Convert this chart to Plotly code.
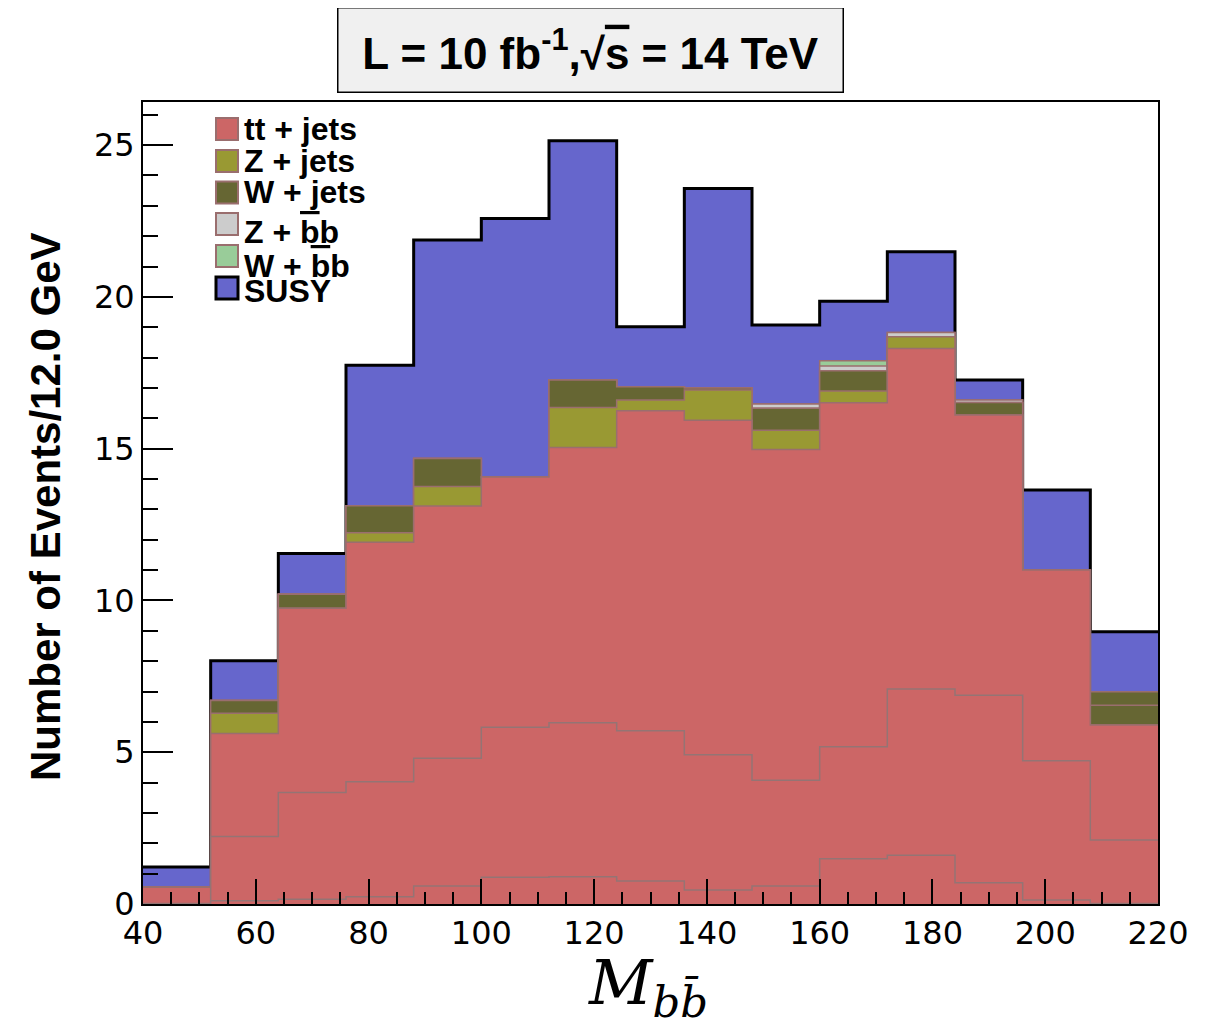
import numpy as np
import plotly.graph_objects as go

# ---- data ----
bin_edges = [40, 52, 64, 76, 88, 100, 112, 124, 136, 148, 160, 172, 184, 196, 208, 220]

tt_a = [0.00, 0.11, 0.16, 0.24, 0.59, 0.88, 0.90, 0.76, 0.46, 0.59, 1.49, 1.61, 0.70, 0.13, 0.02]
tt_b = [0.02, 2.11, 3.51, 3.79, 4.21, 4.94, 5.07, 4.95, 4.46, 3.49, 3.69, 5.47, 6.18, 4.59, 2.09]
tt_c = [0.53, 3.40, 6.07, 7.89, 8.31, 8.25, 9.07, 10.54, 11.02, 10.89, 11.33, 11.22, 9.23, 6.28, 3.79]
z_jets = [0.00, 0.66, 0.00, 0.31, 0.64, 0.00, 1.32, 0.35, 0.99, 0.64, 0.39, 0.39, 0.00, 0.00, 0.00]
w_jets_a = [0.00, 0.42, 0.46, 0.89, 0.93, 0.00, 0.90, 0.44, 0.07, 0.72, 0.67, 0.00, 0.41, 0.00, 0.65]
w_jets_b = [0.00, 0.00, 0.00, 0.00, 0.00, 0.00, 0.00, 0.00, 0.00, 0.00, 0.00, 0.00, 0.00, 0.00, 0.44]
z_bb = [0.00, 0.00, 0.00, 0.00, 0.00, 0.00, 0.00, 0.00, 0.00, 0.14, 0.15, 0.14, 0.08, 0.00, 0.00]
w_bb = [0.00, 0.00, 0.00, 0.00, 0.00, 0.00, 0.00, 0.00, 0.00, 0.00, 0.18, 0.00, 0.00, 0.00, 0.00]
susy = [0.67, 1.31, 1.35, 4.63, 7.19, 8.51, 7.88, 1.98, 6.57, 2.60, 1.96, 2.66, 0.66, 2.64, 1.98]

y_ticks = [0, 5, 10, 15, 20, 25]
x_ticks = [40, 60, 80, 100, 120, 140, 160, 180, 200, 220]

OVB = "<span style='text-decoration:overline'>b</span>"
legend_labels = ["tt + jets", "Z + jets", "W + jets", "Z + " + OVB + "b", "W + " + OVB + "b", "SUSY"]

# ---- stack (bottom -> top) ----
LC = "#9a6e6e"
components = [
    # legend label index, values, fill colour, line colour, line width
    (0, tt_a, "#cc6666", "#947474", 1.5),
    (0, tt_b, "#cc6666", "#947474", 1.5),
    (0, tt_c, "#cc6666", LC, 1.5),
    (1, z_jets, "#999933", LC, 1.5),
    (2, w_jets_a, "#666633", LC, 1.5),
    (2, w_jets_b, "#666633", LC, 1.5),
    (3, z_bb, "#cccccc", LC, 1.5),
    (4, w_bb, "#99cc99", LC, 1.5),
    (5, susy, "#6666cc", "#000000", 3.0),
]

cum = np.cumsum(np.array([c[1] for c in components], dtype=float), axis=0)

fig = go.Figure()
# ROOT THStack style: draw the highest cumulative first, lower ones painted over it
for i in reversed(range(len(components))):
    li, vals, fc, lc, lw = components[i]
    yv = list(cum[i]) + [cum[i][-1]]
    fig.add_trace(go.Scatter(
        x=bin_edges, y=yv, mode="lines", line_shape="hv",
        line=dict(color=lc, width=lw), fill="tozeroy", fillcolor=fc,
        name=legend_labels[li], showlegend=False, hoverinfo="skip",
    ))

tick_font = dict(family="DejaVu Sans", size=32, color="black")

# plot area in page pixels: x 143..1158, y 102..904 (page has an 8px body margin)
W, H = 1200, 1019
L, T = 135, 94
PW, PH = 1015, 802

fig.update_layout(
    width=W, height=H,
    margin=dict(l=L, r=W - L - PW, t=T, b=H - T - PH),
    paper_bgcolor="white", plot_bgcolor="white",
    showlegend=False,
    xaxis=dict(
        range=[40, 220], tickmode="array", tickvals=x_ticks,
        ticks="inside", ticklen=25, tickwidth=1.5, tickcolor="black",
        minor=dict(dtick=5, tick0=40, ticks="inside", ticklen=12, tickwidth=1.5, tickcolor="black"),
        showgrid=False, zeroline=False,
        showline=True, linecolor="black", linewidth=2, mirror=True,
        tickfont=tick_font,
    ),
    yaxis=dict(
        range=[0, 26.42], tickmode="array", tickvals=y_ticks,
        ticks="inside", ticklen=30, tickwidth=1.5, tickcolor="black",
        minor=dict(dtick=1, tick0=0, ticks="inside", ticklen=15, tickwidth=1.5, tickcolor="black"),
        showgrid=False, zeroline=False,
        showline=True, linecolor="black", linewidth=2, mirror=True,
        tickfont=tick_font,
    ),
)


def px_x(p):
    return (p - 143) / PW


def px_y(p):
    return (904 - p) / PH


# ---- legend (ROOT TLegend look: square swatches, tight rows) ----
legend_fill = ["#cc6666", "#999933", "#666633", "#cccccc", "#99cc99", "#6666cc"]
legend_line = [LC, LC, LC, LC, LC, "#000000"]
legend_lw = [2, 2, 2, 2, 2, 3]
swatch_centers = [129, 161, 192.5, 224, 256, 288]
text_centers = [129.5, 161, 192, 232, 266, 290.5]
for lab, fc, lc, lw, yc, tc in zip(legend_labels, legend_fill, legend_line, legend_lw,
                                   swatch_centers, text_centers):
    fig.add_shape(type="rect", xref="paper", yref="paper",
                  x0=px_x(216), x1=px_x(238), y0=px_y(yc + 11), y1=px_y(yc - 11),
                  fillcolor=fc, line=dict(color=lc, width=lw), layer="above")
    fig.add_annotation(xref="paper", yref="paper", x=px_x(242), y=px_y(tc),
                       xanchor="left", yanchor="middle", showarrow=False, text=lab,
                       font=dict(family="Liberation Sans", size=32, color="black", weight="bold"))

# Top info box
fig.add_annotation(
    xref="paper", yref="paper", x=px_x(590), y=px_y(49.5),
    xanchor="center", yanchor="middle", showarrow=False,
    text="L = 10 fb<sup>-1</sup>,\u221a<span style='text-decoration:overline'>s</span> = 14 TeV",
    font=dict(family="Liberation Sans", size=44, color="black", weight="bold"),
    bgcolor="#f0f0f0", bordercolor="black", borderwidth=1.5,
    width=502, height=81,
)

# Y axis title
fig.add_annotation(
    xref="paper", yref="paper", x=px_x(45), y=px_y(507),
    xanchor="center", yanchor="middle", showarrow=False, textangle=-90,
    text="Number of Events/12.0 GeV",
    font=dict(family="Liberation Sans", size=42, color="black", weight="bold"),
)

# X axis title
fig.add_annotation(
    xref="paper", yref="paper", x=px_x(648), y=px_y(986),
    xanchor="center", yanchor="middle", showarrow=False,
    text="<i>M</i><sub><i>bb\u0304</i></sub>",
    font=dict(family="DejaVu Serif", size=62, color="black"),
)

fig.write_html("out.html")
